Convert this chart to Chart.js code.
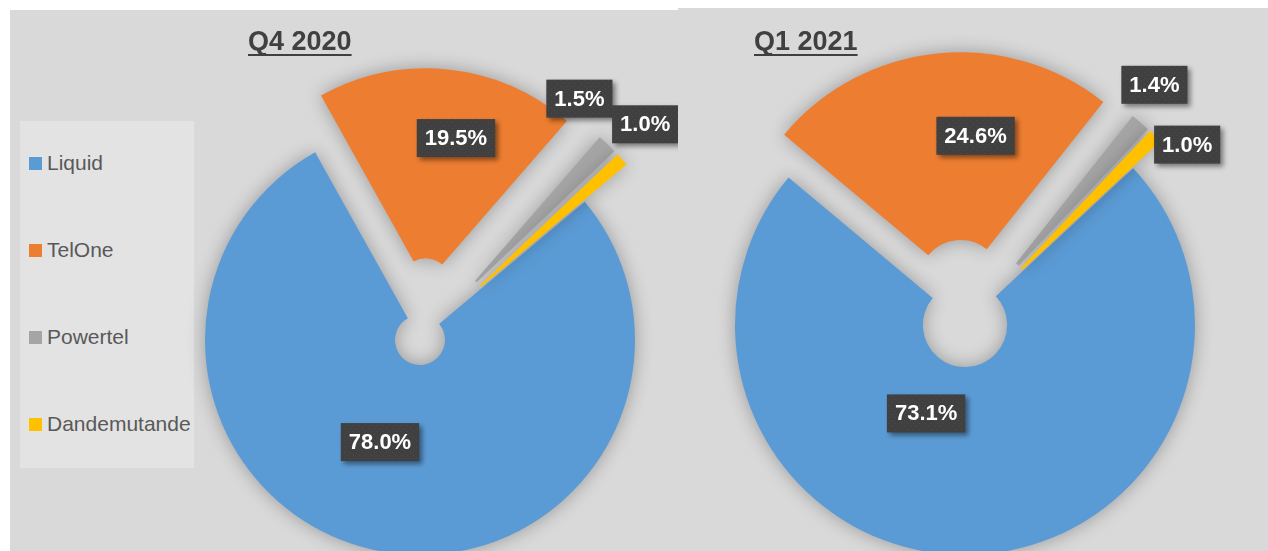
<!DOCTYPE html>
<html>
<head>
<meta charset="utf-8">
<script src="https://cdn.jsdelivr.net/npm/chart.js@4.4.0/dist/chart.umd.min.js"></script>
<style>
html, body { margin: 0; padding: 0; background: #fff; }
body { width: 1268px; height: 551px; position: relative; overflow: hidden; font-family: "Liberation Sans", Arial, sans-serif; }
.panel { position: absolute; background: #d9d9d9; }
#leftPanel { left: 10px; top: 10px; width: 668px; height: 541px; }
#rightPanel { left: 678px; top: 8px; width: 590px; height: 543px; }
.panel canvas { position: absolute; left: 0; top: 0; }
#legend { position: absolute; left: 10px; top: 111px; width: 174px; height: 347px; background: #e3e3e3; }
.item { position: absolute; left: 9px; height: 22px; display: flex; align-items: center; font-size: 21px; color: #595959; white-space: nowrap; }
.sw { display: inline-block; width: 13px; height: 13px; margin-right: 5px; }
</style>
</head>
<body>
<div class="panel" id="leftPanel">
  <div id="legend"></div>
  <canvas id="chartQ4" width="668" height="541"></canvas>
</div>
<div class="panel" id="rightPanel">
  <canvas id="chartQ1" width="590" height="543"></canvas>
</div>
<script>
// datos del gráfico
const categorias = ['Liquid', 'TelOne', 'Powertel', 'Dandemutande'];
const valoresQ4 = [78.0, 19.5, 1.5, 1.0];
const valoresQ1 = [73.1, 24.6, 1.4, 1.0];
const titulos = ['Q4 2020', 'Q1 2021'];

const colores = ['#5b9bd5', '#ed7d31', '#a5a5a5', '#ffc000'];

// leyenda
const legend = document.getElementById('legend');
categorias.forEach(function(cat, i) {
    const div = document.createElement('div');
    div.className = 'item';
    div.style.top = (31 + i * 87) + 'px';
    div.innerHTML = '<span class="sw" style="background:' + colores[i] + '"></span>' + cat;
    legend.appendChild(div);
});

// dibuja cada arco desplazado (como el "explode" de Excel) y con sombra suave
function explotar(separacion) {
    return {
        id: 'explotar',
        beforeDatasetDraw(chart, args) {
            const ctx = chart.ctx;
            ctx.save();
            ctx.shadowColor = 'rgba(0,0,0,0.3)';
            ctx.shadowBlur = 18;
            args.meta.data.forEach(function(arc, i) {
                const mid = (arc.startAngle + arc.endAngle) / 2;
                ctx.save();
                ctx.translate(Math.cos(mid) * separacion[i], Math.sin(mid) * separacion[i]);
                arc.draw(ctx);
                ctx.restore();
            });
            ctx.restore();
            return false;
        }
    };
}

// textura punteada de las etiquetas
const pc = document.createElement('canvas');
pc.width = 6; pc.height = 6;
const pctx = pc.getContext('2d');
pctx.fillStyle = '#404040';
pctx.fillRect(0, 0, 6, 6);
pctx.fillStyle = '#4b4b4b';
pctx.fillRect(1, 1, 1, 1);
pctx.fillRect(4, 4, 1, 1);

function etiquetas(separacion, lugar) {
    return {
        id: 'etiquetas',
        afterDatasetsDraw(chart) {
            const ctx = chart.ctx;
            const meta = chart.getDatasetMeta(0);
            const datos = chart.data.datasets[0].data;
            const patron = ctx.createPattern(pc, 'repeat');
            meta.data.forEach(function(arc, i) {
                const p = arc.getProps(['x', 'y', 'startAngle', 'endAngle', 'outerRadius']);
                const mid = (p.startAngle + p.endAngle) / 2;
                const cx = p.x + Math.cos(mid) * separacion[i];
                const cy = p.y + Math.sin(mid) * separacion[i];
                const a = mid + lugar[i][1] * Math.PI / 180;
                const r = p.outerRadius * lugar[i][0];
                const lx = cx + Math.cos(a) * r;
                const ly = cy + Math.sin(a) * r;
                const texto = datos[i].toFixed(1) + '%';
                ctx.save();
                ctx.font = 'bold 22px "Liberation Sans", Arial, sans-serif';
                const w = ctx.measureText(texto).width + 16;
                const h = 38;
                ctx.shadowColor = 'rgba(0,0,0,0.45)';
                ctx.shadowBlur = 5;
                ctx.shadowOffsetX = 3;
                ctx.shadowOffsetY = 3;
                ctx.fillStyle = patron;
                ctx.fillRect(lx - w / 2, ly - h / 2, w, h);
                ctx.shadowColor = 'transparent';
                ctx.fillStyle = '#fff';
                ctx.textAlign = 'center';
                ctx.textBaseline = 'middle';
                ctx.fillText(texto, lx, ly + 1);
                ctx.restore();
            });
        }
    };
}

function titulo(texto, x, y) {
    return {
        id: 'titulo',
        afterDraw(chart) {
            const ctx = chart.ctx;
            ctx.save();
            ctx.font = 'bold 27px "Liberation Sans", Arial, sans-serif';
            ctx.fillStyle = '#404040';
            ctx.textBaseline = 'alphabetic';
            ctx.fillText(texto, x, y);
            const w = ctx.measureText(texto).width;
            ctx.fillRect(x, y + 4, w, 2);
            ctx.restore();
        }
    };
}

function crearGrafico(id, valores, rotacion, radio, hueco, padding, separacion, lugar, tit) {
    const ctx = document.getElementById(id).getContext('2d');
    return new Chart(ctx, {
        type: 'doughnut',
        data: {
            labels: categorias,
            datasets: [{
                data: valores,
                backgroundColor: colores,
                borderWidth: 0,
                hoverOffset: 0
            }]
        },
        options: {
            responsive: false,
            animation: false,
            events: [],
            rotation: rotacion,
            radius: radio,
            cutout: hueco,
            layout: { padding: padding },
            plugins: {
                legend: { display: false },
                tooltip: { enabled: false },
                title: { display: false }
            }
        },
        plugins: [explotar(separacion), etiquetas(separacion, lugar), titulo(tit[0], tit[1], tit[2])]
    });
}

crearGrafico('chartQ4', valoresQ4, 50, 215, '11.6%',
    { left: 152, right: 0, top: 119, bottom: 0 },
    [0, 57, 56, 56],
    [[0.51, 11], [0.69, 5.8], [1.09, -12.7], [1.19, -2.4]],
    [titulos[0], 238, 40]);

crearGrafico('chartQ1', valoresQ1, 47, 230, '18.3%',
    { left: 0, right: 16, top: 91, bottom: 0 },
    [0, 43, 38, 38],
    [[0.42, 25.3], [0.64, 11.7], [1.165, -3], [1.08, 6.6]],
    [titulos[1], 76, 42]);
</script>
</body>
</html>
